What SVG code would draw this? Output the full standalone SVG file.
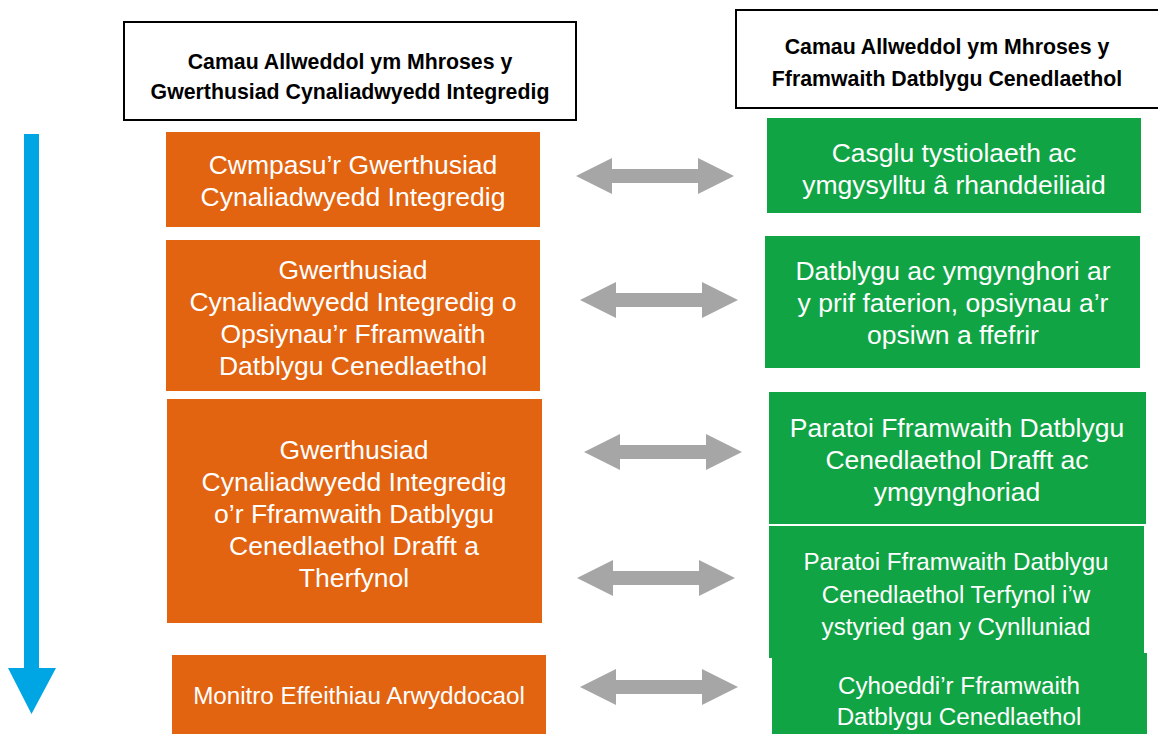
<svg xmlns="http://www.w3.org/2000/svg" width="1158" height="734" viewBox="0 0 1158 734">
<defs>
<style>
.hdr{fill:#fff;stroke:#000;stroke-width:2}
.ht{font-family:"Liberation Sans",Arial,sans-serif;font-weight:bold;font-size:21.3px;fill:#000;text-anchor:middle}
.or{fill:#E26310}
.gr{fill:#11A444}
.t{font-family:"Liberation Sans",Arial,sans-serif;font-size:26.5px;fill:#fff;text-anchor:middle}
.s{font-size:24.2px}
.da{fill:#A6A6A6}
</style>
<path id="dbl" d="M0,0 L36,-18 L36,-7 L122,-7 L122,-18 L158,0 L122,18 L122,7 L36,7 L36,18 Z"/>
</defs>
<rect width="1158" height="734" fill="#fff"/>
<g id="header-left"><rect class="hdr" x="124" y="22" width="452" height="98"/>
<text class="ht" x="350" y="69">Camau Allweddol ym Mhroses y</text>
<text class="ht" x="350" y="99">Gwerthusiad Cynaliadwyedd Integredig</text></g>
<g id="header-right"><rect class="hdr" x="736" y="10" width="424" height="98"/>
<text class="ht" x="947" y="54">Camau Allweddol ym Mhroses y</text>
<text class="ht" x="947" y="86">Fframwaith Datblygu Cenedlaethol</text></g>
<g id="timeline"><path fill="#00A6E3" d="M24,134 L39,134 L39,668 L56,668 L31.5,714 L8,668 L24,668 Z"/></g>
<g id="o1"><rect class="or" x="166" y="132" width="374" height="95"/>
<text class="t" x="353" y="174">Cwmpasu’r Gwerthusiad</text>
<text class="t" x="353" y="206">Cynaliadwyedd Integredig</text></g>
<g id="o2"><rect class="or" x="166" y="240" width="374" height="151"/>
<text class="t" x="353" y="279">Gwerthusiad</text>
<text class="t" x="353" y="311">Cynaliadwyedd Integredig o</text>
<text class="t" x="353" y="343">Opsiynau’r Fframwaith</text>
<text class="t" x="353" y="375">Datblygu Cenedlaethol</text></g>
<g id="o3"><rect class="or" x="167" y="399" width="375" height="224"/>
<text class="t" x="354" y="459">Gwerthusiad</text>
<text class="t" x="354" y="491">Cynaliadwyedd Integredig</text>
<text class="t" x="354" y="523">o’r Fframwaith Datblygu</text>
<text class="t" x="354" y="555">Cenedlaethol Drafft a</text>
<text class="t" x="354" y="587">Therfynol</text></g>
<g id="o4"><rect class="or" x="172" y="655" width="374" height="79"/>
<text class="t s" x="359" y="704">Monitro Effeithiau Arwyddocaol</text></g>
<g id="g1"><rect class="gr" x="767" y="118" width="374" height="95"/>
<text class="t" x="954" y="162">Casglu tystiolaeth ac</text>
<text class="t" x="954" y="194">ymgysylltu â rhanddeiliaid</text></g>
<g id="g2"><rect class="gr" x="765" y="236" width="375" height="132"/>
<text class="t" x="953" y="280">Datblygu ac ymgynghori ar</text>
<text class="t" x="953" y="312">y prif faterion, opsiynau a’r</text>
<text class="t" x="953" y="344">opsiwn a ffefrir</text></g>
<g id="g3"><rect class="gr" x="769" y="392" width="377" height="132"/>
<text class="t" x="957" y="437">Paratoi Fframwaith Datblygu</text>
<text class="t" x="957" y="469">Cenedlaethol Drafft ac</text>
<text class="t" x="957" y="501">ymgynghoriad</text></g>
<g id="g4"><rect class="gr" x="769" y="526" width="375" height="132"/>
<text class="t s" x="956" y="570">Paratoi Fframwaith Datblygu</text>
<text class="t s" x="956" y="603">Cenedlaethol Terfynol i’w</text>
<text class="t s" x="956" y="635">ystyried gan y Cynlluniad</text></g>
<g id="g5"><rect class="gr" x="772" y="653" width="375" height="81"/>
<text class="t s" x="959" y="694">Cyhoeddi’r Fframwaith</text>
<text class="t s" x="959" y="725">Datblygu Cenedlaethol</text></g>
<g id="connectors" class="da">
<use href="#dbl" x="576" y="176"/>
<use href="#dbl" x="580" y="300"/>
<use href="#dbl" x="584" y="452"/>
<use href="#dbl" x="577" y="578"/>
<use href="#dbl" x="580" y="687"/>
</g>
</svg>
